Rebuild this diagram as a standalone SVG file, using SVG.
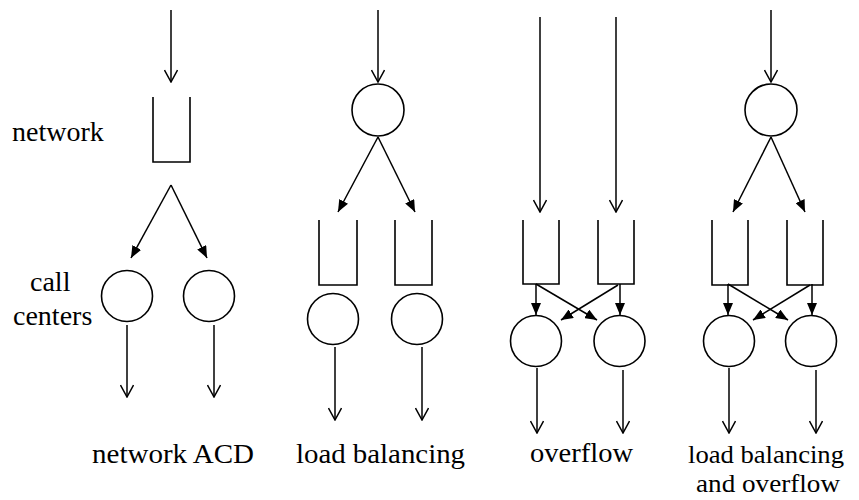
<svg xmlns="http://www.w3.org/2000/svg" width="859" height="500" viewBox="0 0 859 500">
<style>
.ln{stroke:#000;stroke-width:1.5;fill:none}
.o{marker-end:url(#open)}
.f{marker-end:url(#fill)}
.c{fill:#fff;stroke:#000;stroke-width:1.6}
.q{fill:none;stroke:#000;stroke-width:1.6}
</style>
<defs>
<marker id="open" viewBox="0 0 14 14" refX="13" refY="7" markerWidth="14" markerHeight="14" orient="auto" markerUnits="userSpaceOnUse"><path d="M1,0.5 L13,7 L1,13.5" fill="none" stroke="#000" stroke-width="1.5"/></marker>
<marker id="fill" viewBox="0 0 12 10" refX="12" refY="5" markerWidth="12" markerHeight="10" orient="auto" markerUnits="userSpaceOnUse"><path d="M0,0 L12,5 L0,10 Z" fill="#000"/></marker>
</defs>
<rect width="859" height="500" fill="#fff"/>

<g id="labels" font-family="'Liberation Serif', 'Times New Roman', serif" font-size="28" fill="#000">
<text x="12" y="141">network</text>
<text x="30" y="291">call</text>
<text x="13" y="325">centers</text>
<text x="92" y="463" textLength="162" lengthAdjust="spacingAndGlyphs">network ACD</text>
<text x="296" y="463" textLength="169" lengthAdjust="spacingAndGlyphs">load balancing</text>
<text x="530" y="462" textLength="103" lengthAdjust="spacingAndGlyphs">overflow</text>
<text x="688" y="463" font-size="25" textLength="156" lengthAdjust="spacingAndGlyphs">load balancing</text>
<text x="696" y="492" font-size="25" textLength="144" lengthAdjust="spacingAndGlyphs">and overflow</text>
</g>

<!-- Panel 1 nodes -->
<g id="p1-queue"><path class="q" d="M153,97 V162 H190 V97"/></g>
<g id="p1-cc1"><circle class="c" cx="127" cy="296" r="25.5"/></g>
<g id="p1-cc2"><circle class="c" cx="209" cy="296" r="25.5"/></g>

<!-- Panel 2 nodes -->
<g id="p2-router"><circle class="c" cx="378" cy="110" r="26"/></g>
<g id="p2-q1"><path class="q" d="M319,220 V285 H357 V220"/></g>
<g id="p2-q2"><path class="q" d="M395,220 V285 H432 V220"/></g>
<g id="p2-cc1"><circle class="c" cx="333" cy="319" r="25.5"/></g>
<g id="p2-cc2"><circle class="c" cx="417" cy="319" r="25.5"/></g>

<!-- Panel 3 nodes -->
<g id="p3-q1"><path class="q" d="M523,220 V284 H559 V220"/></g>
<g id="p3-q2"><path class="q" d="M598,220 V284 H634 V220"/></g>
<g id="p3-cc1"><circle class="c" cx="536" cy="341" r="25.5"/></g>
<g id="p3-cc2"><circle class="c" cx="619.5" cy="341" r="25.5"/></g>

<!-- Panel 4 nodes -->
<g id="p4-router"><circle class="c" cx="771" cy="110" r="26"/></g>
<g id="p4-q1"><path class="q" d="M712,220 V285 H748 V220"/></g>
<g id="p4-q2"><path class="q" d="M787,220 V285 H823 V220"/></g>
<g id="p4-cc1"><circle class="c" cx="729" cy="341" r="25.5"/></g>
<g id="p4-cc2"><circle class="c" cx="811" cy="341" r="25.5"/></g>

<g id="connectors">
<!-- panel 1 -->
<line class="ln o" x1="171" y1="10" x2="171" y2="82"/>
<line class="ln f" x1="171" y1="185" x2="131" y2="258"/>
<line class="ln f" x1="171" y1="185" x2="207" y2="258"/>
<line class="ln o" x1="127" y1="325" x2="127" y2="397"/>
<line class="ln o" x1="214" y1="325" x2="214" y2="397"/>
<!-- panel 2 -->
<line class="ln o" x1="378" y1="10" x2="378" y2="82"/>
<line class="ln f" x1="378" y1="137" x2="338" y2="212"/>
<line class="ln f" x1="378" y1="137" x2="415" y2="212"/>
<line class="ln o" x1="335" y1="347" x2="335" y2="420"/>
<line class="ln o" x1="422" y1="347" x2="422" y2="420"/>
<!-- panel 3 -->
<line class="ln o" x1="540" y1="17" x2="540" y2="212"/>
<line class="ln o" x1="616" y1="17" x2="616" y2="212"/>
<line class="ln f" x1="536" y1="284" x2="536" y2="315"/>
<line class="ln f" x1="536" y1="284" x2="597" y2="320"/>
<line class="ln f" x1="620" y1="284" x2="620" y2="315"/>
<line class="ln f" x1="618" y1="285" x2="561" y2="320"/>
<line class="ln o" x1="537" y1="368" x2="537" y2="433"/>
<line class="ln o" x1="623" y1="370" x2="623" y2="433"/>
<!-- panel 4 -->
<line class="ln o" x1="771" y1="10" x2="771" y2="82"/>
<line class="ln f" x1="771" y1="137" x2="733" y2="212"/>
<line class="ln f" x1="771" y1="137" x2="805" y2="212"/>
<line class="ln f" x1="728" y1="284" x2="728" y2="315"/>
<line class="ln f" x1="728" y1="284" x2="788" y2="320"/>
<line class="ln f" x1="812" y1="284" x2="812" y2="315"/>
<line class="ln f" x1="810" y1="285" x2="753" y2="320"/>
<line class="ln o" x1="729" y1="368" x2="729" y2="433"/>
<line class="ln o" x1="816" y1="370" x2="816" y2="433"/>
</g>
</svg>
